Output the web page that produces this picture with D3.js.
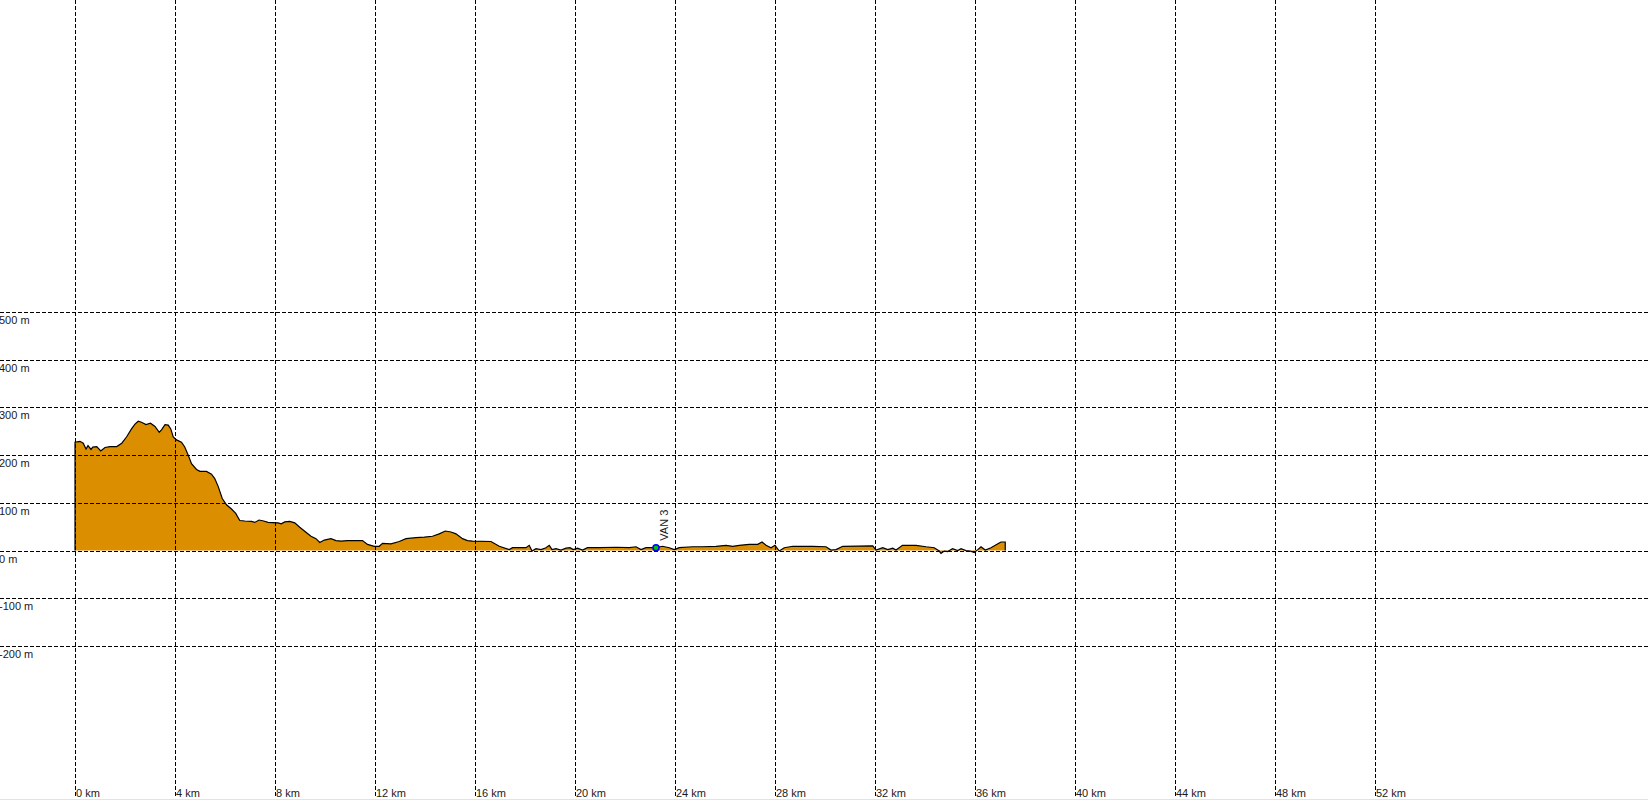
<!DOCTYPE html>
<html>
<head>
<meta charset="utf-8">
<script src="https://cdn.jsdelivr.net/npm/d3@7/dist/d3.min.js"></script>
<style>
  html, body { margin: 0; padding: 0; background: #fff; overflow: hidden; }
  svg { display: block; }
  text { font-family: "Liberation Sans", Arial, sans-serif; font-size: 11px; fill: #1a1a1a; }
</style>
</head>
<body>
<svg id="chart" width="1648" height="800"></svg>
<script>
// Distance along route (km)
const distKm = [0,0.2,0.33,0.44,0.52,0.64,0.71,0.87,1.03,1.2,1.4,1.67,1.87,2.06,2.26,2.4,2.53,2.66,2.84,3.02,3.2,3.37,3.46,3.6,3.73,3.83,3.93,4.06,4.26,4.39,4.53,4.66,4.86,5.0,5.26,5.46,5.59,5.73,5.89,6.06,6.26,6.43,6.59,6.79,7.06,7.19,7.36,7.55,7.72,8.12,8.25,8.39,8.59,8.79,8.99,9.2,9.44,9.64,9.79,9.97,10.24,10.44,10.64,10.9,11.5,11.7,11.97,12.17,12.3,12.64,12.97,13.24,13.64,13.97,14.3,14.57,14.81,15.04,15.24,15.5,15.7,15.9,16.64,16.97,17.37,17.5,18.04,18.17,18.28,18.44,18.64,18.84,18.97,19.08,19.24,19.44,19.64,19.8,19.93,20.1,20.3,20.5,20.97,21.64,22.17,22.44,22.64,22.84,23.24,23.5,23.77,23.97,24.17,24.7,25.1,25.64,26.04,26.31,26.57,26.97,27.31,27.48,27.64,27.84,28.0,28.17,28.37,28.71,29.51,30.04,30.24,30.44,30.71,31.91,32.04,32.31,32.51,32.71,32.84,33.1,33.64,34.04,34.37,34.57,34.64,34.77,34.91,35.1,35.31,35.44,35.64,35.8,35.97,36.11,36.24,36.41,36.64,36.81,36.97,37.04,37.21];
// Elevation (m)
const elevM = [227,229,225,213,220,212,217,218,209,216,218,218,225,238,255,265,271,269,264,267,260,248,253,264,263,255,238,232,227,217,200,182,170,166,166,160,151,134,109,96,87,78,63,62,61,59,64,62,59,58,56,60,61,58,49,40,30,25,17,22,25,21,20,21,21,13,9,9,15,14,19,25,27,28,30,35,41,39,35,25,21,20,19,9,2,6,6,11,-1,4,2,6,11,2,4,1,5,6,2,5,1,6,6,7,6,8,2,6,6,9,6,2,6,8,8,9,11,9,11,13,13,18,11,6,11,-1,6,9,9,8,1,2,9,10,1,6,2,5,1,11,11,8,6,-1,-6,-1,-2,4,0,4,0,-1,-4,2,8,1,6,11,16,18,18];

const xTicks = [0,4,8,12,16,20,24,28,32,36,40,44,48,52];
const yTicks = [500,400,300,200,100,0,-100,-200];

const waypointNames = ["VAN 3"];
const waypointKm = [23.24];
const waypointElev = [6];

const svg = d3.select("#chart");
const x = d3.scaleLinear().domain([0, 4]).range([75, 175]);
const y = d3.scaleLinear().domain([-200, 500]).range([646, 312]);

const data = distKm.map((d, i) => ({ d, e: elevM[i] }));

// Filled profile
const area = d3.area()
  .x(p => x(p.d))
  .y0(y(0))
  .y1(p => y(p.e));
svg.append("path")
  .datum(data)
  .attr("d", area)
  .attr("fill", "#db8e00");

// Profile outline with vertical ends
const outline = [{ d: distKm[0], e: 0 }, ...data, { d: distKm[distKm.length - 1], e: 0 }];
svg.append("path")
  .datum(outline)
  .attr("d", d3.line().x(p => x(p.d)).y(p => y(p.e)))
  .attr("fill", "none")
  .attr("stroke", "#000")
  .attr("stroke-width", 1.2);

// Grid lines
const grid = svg.append("g");
grid.selectAll("line.h")
  .data(yTicks)
  .join("line")
  .attr("x1", 0).attr("x2", 1648)
  .attr("y1", v => Math.round(y(v)) + 0.5)
  .attr("y2", v => Math.round(y(v)) + 0.5)
  .attr("stroke", "#000")
  .attr("stroke-dasharray", "4,2");
grid.selectAll("line.v")
  .data(xTicks)
  .join("line")
  .attr("y1", 0).attr("y2", 798)
  .attr("x1", v => Math.round(x(v)) + 0.5)
  .attr("x2", v => Math.round(x(v)) + 0.5)
  .attr("stroke", "#000")
  .attr("stroke-dasharray", "4,2");

// Y labels
svg.append("g").selectAll("text")
  .data(yTicks)
  .join("text")
  .attr("x", -1)
  .attr("y", v => Math.round(y(v)) + 11.5)
  .text(v => v + " m");

// X labels
svg.append("g").selectAll("text")
  .data(xTicks)
  .join("text")
  .attr("x", v => Math.round(x(v)) + 1)
  .attr("y", 797)
  .text(v => v + " km");

// Waypoint
waypointNames.forEach((name, i) => {
  const cx = x(waypointKm[i]), cy = y(waypointElev[i]);
  svg.append("circle")
    .attr("cx", cx).attr("cy", cy).attr("r", 3)
    .attr("fill", "#00c000")
    .attr("stroke", "#0000ff")
    .attr("stroke-width", 1.5);
  svg.append("text")
    .attr("transform", `translate(${cx + 12},${cy - 7}) rotate(-90)`)
    .text(name);
});

// bottom frame line
svg.append("line")
  .attr("x1", 0).attr("x2", 1648)
  .attr("y1", 799.5).attr("y2", 799.5)
  .attr("stroke", "#e3e3e3");
</script>
</body>
</html>
